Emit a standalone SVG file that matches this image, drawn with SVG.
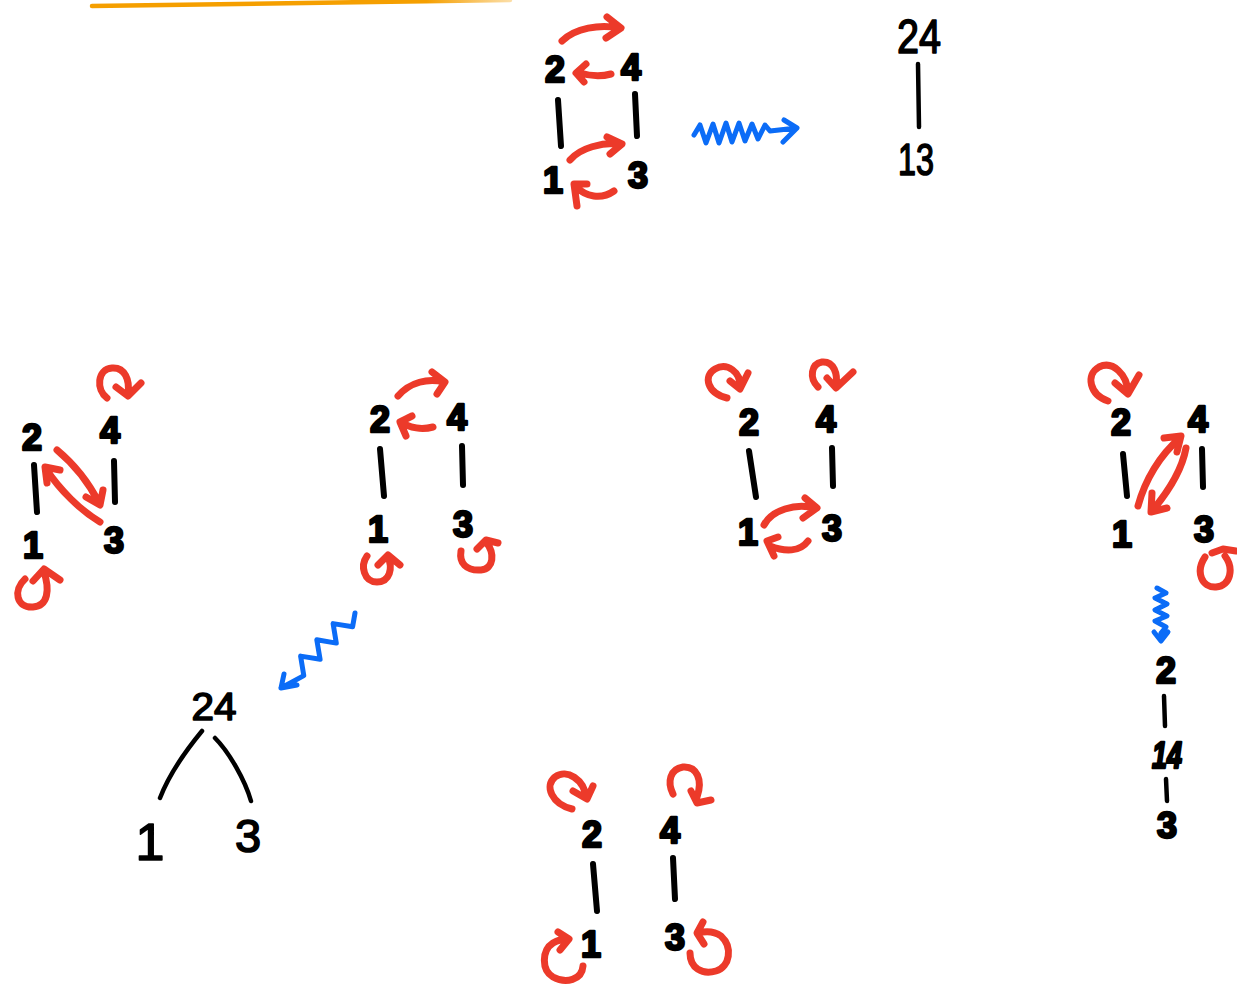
<svg xmlns="http://www.w3.org/2000/svg" width="1237" height="984" viewBox="0 0 1237 984">
  <defs>
    <linearGradient id="fade" gradientUnits="userSpaceOnUse" x1="92" y1="0" x2="510" y2="0">
      <stop offset="0" stop-color="#f59f00"/>
      <stop offset="0.8" stop-color="#f59f00"/>
      <stop offset="1" stop-color="#f59f00" stop-opacity="0.35"/>
    </linearGradient>
    <style>
      .k { stroke: #000; stroke-width: 6; fill: none; stroke-linecap: round; stroke-linejoin: round; }
      .kt { stroke: #000; stroke-width: 4.5; fill: none; stroke-linecap: round; stroke-linejoin: round; }
      .r { stroke: #ec3a2a; stroke-width: 7; fill: none; stroke-linecap: round; stroke-linejoin: round; }
      .b { stroke: #0b6cf7; stroke-width: 5; fill: none; stroke-linecap: round; stroke-linejoin: round; }
      .d { font-family: "Liberation Sans", Arial, sans-serif; font-weight: bold; font-size: 36px; text-anchor: middle; fill: #000; stroke: #000; stroke-width: 2.5; stroke-linejoin: round; }
      .h { font-family: "Liberation Sans", Arial, sans-serif; font-weight: normal; text-anchor: middle; fill: #000; stroke: #000; stroke-width: 1.6; stroke-linejoin: round; }
    </style>
  </defs>
  <rect width="1237" height="984" fill="#fff"/>

  <!-- highlighter stroke at the top edge -->
  <path d="M92,6 L510,0" stroke="url(#fade)" stroke-width="4.5" stroke-linecap="round" fill="none"/>

  <!-- nodes -->
  <g id="nodes">
    <!-- square graph, top -->
    <g id="top-2"><text class="d" x="555" y="82">2</text></g>
    <g id="top-4"><text class="d" x="631" y="80">4</text></g>
    <g id="top-1"><text class="d" x="553" y="193">1</text></g>
    <g id="top-3"><text class="d" x="638" y="188">3</text></g>

    <!-- quotient 24 / 13 -->
    <g id="q-24"><text class="h" x="919" y="53" font-size="48" textLength="44" lengthAdjust="spacingAndGlyphs">24</text></g>
    <g id="q-13"><text class="h" x="916" y="175" font-size="45" textLength="36" lengthAdjust="spacingAndGlyphs">13</text></g>

    <!-- panel A -->
    <g id="a-2"><text class="d" x="32" y="450">2</text></g>
    <g id="a-4"><text class="d" x="110" y="443">4</text></g>
    <g id="a-1"><text class="d" x="33" y="558">1</text></g>
    <g id="a-3"><text class="d" x="114" y="553">3</text></g>

    <!-- panel B -->
    <g id="b-2"><text class="d" x="380" y="432">2</text></g>
    <g id="b-4"><text class="d" x="457" y="430">4</text></g>
    <g id="b-1"><text class="d" x="378" y="542">1</text></g>
    <g id="b-3"><text class="d" x="463" y="537">3</text></g>

    <!-- panel C -->
    <g id="c-2"><text class="d" x="749" y="435">2</text></g>
    <g id="c-4"><text class="d" x="826" y="432">4</text></g>
    <g id="c-1"><text class="d" x="748" y="545">1</text></g>
    <g id="c-3"><text class="d" x="832" y="541">3</text></g>

    <!-- panel D -->
    <g id="d-2"><text class="d" x="1121" y="435">2</text></g>
    <g id="d-4"><text class="d" x="1198" y="432">4</text></g>
    <g id="d-1"><text class="d" x="1122" y="547">1</text></g>
    <g id="d-3"><text class="d" x="1204" y="542">3</text></g>

    <!-- chain 2 / 14 / 3 -->
    <g id="chain-2"><text class="d" x="1166" y="683" font-size="26" stroke-width="1.5">2</text></g>
    <g id="chain-14"><text class="d" x="1167" y="768" font-size="36" font-style="italic" textLength="30" lengthAdjust="spacingAndGlyphs" stroke-width="1">14</text></g>
    <g id="chain-3"><text class="d" x="1167" y="838" font-size="33" stroke-width="1.2">3</text></g>

    <!-- tree 24 / 1 3 -->
    <g id="t-24"><text class="h" x="214" y="720" font-size="39" textLength="45" lengthAdjust="spacingAndGlyphs">24</text></g>
    <g id="t-1"><text class="h" x="150" y="860" font-size="52">1</text></g>
    <g id="t-3"><text class="h" x="248" y="852" font-size="47">3</text></g>

    <!-- panel E -->
    <g id="e-2"><text class="d" x="592" y="847">2</text></g>
    <g id="e-4"><text class="d" x="670" y="843">4</text></g>
    <g id="e-1"><text class="d" x="591" y="957">1</text></g>
    <g id="e-3"><text class="d" x="675" y="950">3</text></g>
  </g>

  <!-- connectors -->
  <g id="connectors">
    <!-- edges -->
    <g id="edges">
      <path class="k" d="M558,100 L561,146"/>
      <path class="k" d="M635,94 L637,136"/>
      <path class="kt" d="M918,64 L919,127"/>
      <path class="k" d="M34,465 L37,512"/>
      <path class="k" d="M114,461 L115,502"/>
      <path class="k" d="M380,449 L384,496"/>
      <path class="k" d="M462,446 L463,485"/>
      <path class="k" d="M749,451 L756,497"/>
      <path class="k" d="M832,448 L833,486"/>
      <path class="k" d="M1123,454 L1127,496"/>
      <path class="k" d="M1202,449 L1203,487"/>
      <path class="kt" d="M1164,696 L1165,726"/>
      <path class="kt" d="M1166,779 L1167,801"/>
      <path class="kt" d="M202,731 C188,748 170,772 160,798"/>
      <path class="kt" d="M215,738 C229,752 245,780 251,801"/>
      <path class="k" d="M593,864 L597,911"/>
      <path class="k" d="M673,858 L675,899"/>
    </g>

    <!-- swaps and self loops -->
    <g id="moves">
      <!-- top square -->
      <path class="r" d="M562,41 C575,28 600,24 619,28 M607,17 L621,28 L606,38"/>
      <path class="r" d="M611,74 C600,77 590,76 580,73 M586,64 L576,73 L584,82"/>
      <path class="r" d="M570,160 C580,148 602,142 621,144 M607,137 L622,144 L610,154"/>
      <path class="r" d="M614,191 C601,200 586,197 575,186 M587,184 L574,184 L577,206"/>

      <!-- panel A -->
      <path class="r" d="M107,398 C96,390 97,369 112,368 C125,367 130,380 128,394 M116,387 L128,396 L141,383"/>
      <path class="r" d="M57,450 C75,465 90,485 99,503 M86,497 L100,505 L103,490"/>
      <path class="r" d="M100,522 C80,510 60,490 46,469 M60,470 L45,467 L47,483"/>
      <path class="r" d="M25,579 C13,590 16,608 33,607 C48,606 50,590 44,572 M33,581 L44,569 L60,580"/>

      <!-- panel B -->
      <path class="r" d="M398,396 C410,382 428,378 444,382 M432,372 L445,382 L437,394"/>
      <path class="r" d="M433,427 C422,430 410,428 401,422 M412,416 L400,422 L406,436"/>
      <path class="r" d="M367,556 C360,566 364,582 377,582 C390,582 393,568 388,557 M378,565 L388,555 L400,565"/>
      <path class="r" d="M461,551 C459,563 466,571 481,570 C494,569 495,553 486,542 M477,549 L486,540 L498,543"/>

      <!-- panel C -->
      <path class="r" d="M727,398 C707,393 703,376 715,369 C727,362 741,372 740,387 M730,381 L740,389 L748,373"/>
      <path class="r" d="M818,387 C809,378 811,364 822,362 C834,361 838,374 836,386 M827,378 L836,388 L853,372"/>
      <path class="r" d="M764,525 C772,510 795,503 815,508 M805,498 L817,508 L803,518"/>
      <path class="r" d="M808,541 C800,552 785,552 770,546 M778,537 L767,541 L774,556"/>

      <!-- panel D -->
      <path class="r" d="M1108,401 C1090,395 1085,375 1099,367 C1113,360 1127,375 1128,392 M1115,383 L1128,394 L1139,375"/>
      <path class="r" d="M1138,506 C1145,480 1160,455 1180,438 M1164,438 L1181,436 L1177,452"/>
      <path class="r" d="M1186,448 C1182,470 1168,492 1152,511 M1152,493 L1151,512 L1167,508"/>
      <path class="r" d="M1205,557 C1195,572 1202,588 1216,587 C1231,586 1234,568 1225,556 M1212,553 L1223,549 L1236,551"/>

      <!-- panel E -->
      <path class="r" d="M572,809 C552,804 544,786 555,777 C567,768 584,780 586,797 M573,791 L587,799 L593,786"/>
      <path class="r" d="M673,794 C667,782 670,769 683,767 C697,766 703,780 697,797 M691,791 L697,803 L711,800"/>
      <path class="r" d="M583,966 C582,980 566,984 553,977 C541,970 542,950 553,943 C558,940 563,939 568,939 M558,932 L569,939 L560,950"/>
      <path class="r" d="M690,953 C690,968 702,975 716,971 C730,967 733,947 721,936 C714,931 706,931 698,933 M703,922 L697,933 L704,944"/>
    </g>

    <!-- squiggly maps -->
    <g id="maps">
      <path class="b" d="M694,135 L700,125 L706,143 L713,124 L719,143 L726,123 L732,142 L739,123 L745,141 L752,124 L758,139 L765,125 L770,131 L797,128 M784,120 L797,128 L783,142"/>
      <path class="b" d="M355,613 L352.6,626.8 L333.1,623.6 L336.3,643.1 L316.8,639.8 L320.1,659.3 L300.6,656.1 L303.8,675.6 L281,688 M284,674 L281,688 L297,685"/>
      <path class="b" d="M1157,588 L1166,593 L1155,598 L1167,604 L1155,610 L1167,616 L1155,621 L1166,627 L1161,633 L1161,640 M1154,632 L1161,641 L1168,632"/>
    </g>
  </g>
</svg>
